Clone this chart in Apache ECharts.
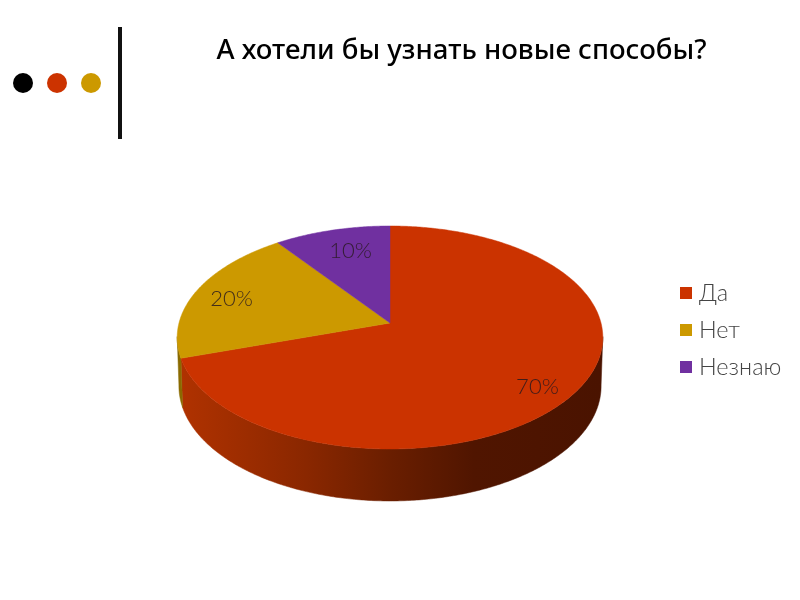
<!DOCTYPE html>
<html>
<head>
<meta charset="utf-8">
<style>
    html, body {margin: 0; padding: 0; background: #fff;}
    #main {width: 800px; height: 600px;}
</style>
<script src="https://cdn.jsdelivr.net/npm/echarts@6/dist/echarts.min.js"></script>
</head>
<body>
<div id="main"></div>
<script>
const titleText = 'А хотели бы узнать новые способы?';
const categories = ['Да', 'Нет', 'Незнаю'];
const values = [70, 20, 10];
const colors = ['#cb3300', '#cc9900', '#7030a0'];
const dotColors = ['#000000', '#cc3300', '#cc9900'];

// projection of the tilted disc
const cx = 390, cy = 323, rx = 211, ry = 109.6, persp = 0.13;
const total = values.reduce((a, b) => a + b, 0);

// angle is clockwise from 12 o'clock, r is 0..1 of the radius
function project(angle, r) {
    let u = Math.sin(angle) * r;
    let v = Math.cos(angle) * r;
    let w = 1 + persp * v;
    return [cx + rx * u / w, cy - ry * v / w];
}

// bottom rim sits lower and a bit narrower than the top one
function projectBottom(angle) {
    let [x, y] = project(angle, 1);
    return [cx + (x - cx) * 0.992, y + 48 - 4 * Math.cos(angle)];
}

function arc(from, to, fn) {
    let pts = [];
    let steps = Math.max(2, Math.ceil(Math.abs(to - from) / 0.01));
    for (let i = 0; i <= steps; i++) {
        pts.push(fn(from + (to - from) * i / steps));
    }
    return pts;
}

const toRad = share => share / total * Math.PI * 2;
let acc = 0;
const ranges = values.map(v => {
    let range = [toRad(acc), toRad(acc + v)];
    acc += v;
    return range;
});

const wallGradient = new echarts.graphic.LinearGradient(180, 0, 600, 0, [
    {offset: 0, color: '#b03200'},
    {offset: 0.3, color: '#8a2700'},
    {offset: 0.5, color: '#6a1e00'},
    {offset: 0.7, color: '#501500'},
    {offset: 1, color: '#4a1300'},
], true);
const wallFills = [wallGradient, '#8a6a00', '#4a2070'];

// only the part of the side facing the viewer is visible
const wallFrom = 97 * Math.PI / 180, wallTo = 263 * Math.PI / 180;

const labelOffsets = [[2, 9], [-3, 2], [8, 4]];

const wallSeries = {
    type: 'custom',
    coordinateSystem: 'none',
    silent: true,
    z: 1,
    data: ranges.map((r, i) => [r[0], r[1], i]),
    renderItem: (params, api) => {
        let from = Math.max(api.value(0), wallFrom);
        let to = Math.min(api.value(1), wallTo);
        if (from >= to) return null;
        let top = arc(from, to, a => project(a, 1));
        let bottom = arc(to, from, projectBottom);
        let fill = wallFills[api.value(2)];
        return {
            type: 'polygon',
            shape: {points: top.concat(bottom)},
            style: {fill: fill, stroke: fill, lineWidth: 0.5},
        };
    },
};

const sliceSeries = categories.map((name, i) => ({
    name: name,
    type: 'custom',
    coordinateSystem: 'none',
    silent: true,
    z: 2,
    itemStyle: {color: colors[i]},
    data: [[ranges[i][0], ranges[i][1], values[i]]],
    renderItem: (params, api) => {
        let from = api.value(0);
        let to = api.value(1);
        let pts = [[cx, cy]].concat(arc(from, to, a => project(a, 1)));
        let [lx, ly] = project((from + to) / 2, 0.8);
        return {
            type: 'group',
            children: [
                {
                    type: 'polygon',
                    shape: {points: pts},
                    style: {fill: colors[i], stroke: colors[i], lineWidth: 0.5},
                },
                {
                    type: 'text',
                    z2: 10,
                    x: lx + labelOffsets[i][0],
                    y: ly + labelOffsets[i][1],
                    style: {
                        text: api.value(2) + '%',
                        fill: 'rgba(40,25,30,0.85)',
                        font: '300 22px Lato, "Open Sans", sans-serif',
                        align: 'center',
                        verticalAlign: 'middle',
                    },
                },
            ],
        };
    },
}));

const myChart = echarts.init(document.getElementById('main'), null, {renderer: 'canvas'});
myChart.setOption({
    animation: false,
    backgroundColor: '#fff',
    title: {
        text: titleText,
        left: 456.5,
        top: 32,
        textAlign: 'center',
        textStyle: {
            color: '#000',
            fontFamily: '"Noto Sans", sans-serif',
            fontSize: 27.6,
            fontWeight: 500,
        },
    },
    legend: {
        data: categories,
        orient: 'vertical',
        left: 680,
        top: 280,
        padding: 0,
        icon: 'rect',
        itemWidth: 12,
        itemHeight: 12,
        itemGap: 11,
        selectedMode: false,
        textStyle: {
            color: '#444',
            fontFamily: 'Lato, "Open Sans", sans-serif',
            fontWeight: 300,
            fontSize: 23.5,
            lineHeight: 26,
            padding: [0, 0, 0, 2],
        },
    },
    graphic: [
        ...dotColors.map((color, i) => ({
            type: 'circle',
            silent: true,
            shape: {cx: 23 + i * 34, cy: 83, r: 10},
            style: {fill: color},
        })),
        {
            type: 'rect',
            silent: true,
            shape: {x: 118, y: 27, width: 4, height: 112},
            style: {fill: '#111'},
        },
    ],
    series: [wallSeries, ...sliceSeries],
});
</script>
</body>
</html>
